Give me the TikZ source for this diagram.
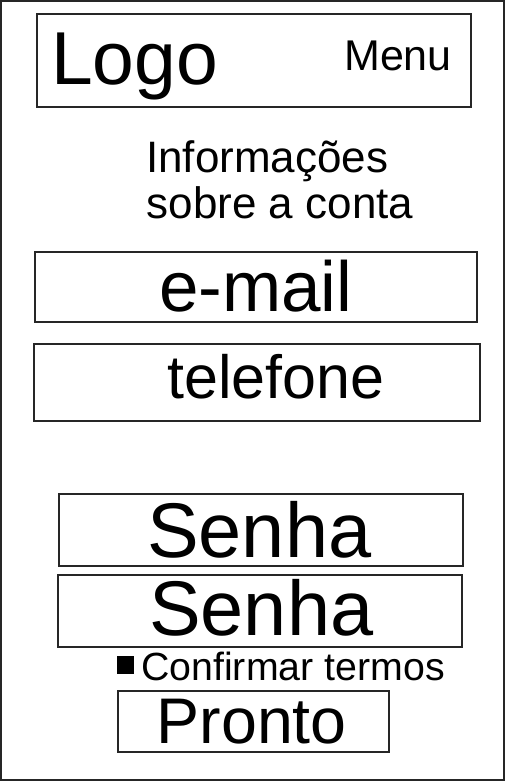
\documentclass[tikz,border=0pt]{standalone}
\usepackage{fontspec}
\setmainfont{Liberation Sans}
\begin{document}
\begin{tikzpicture}[x=1pt,y=-1pt,
  frame/.style={draw=black!85,line width=2pt},
  boxr/.style={draw=black!85,line width=2pt},
  lbl/.style={anchor=base west,inner sep=0pt,text=black}]
\useasboundingbox (0,0) rectangle (506,781);
\draw[frame] (1,1) rectangle (504,779.5);
% header
\draw[boxr] (37,14) rectangle (470.5,107.5);
\node[lbl,font=\fontsize{75}{75}\selectfont] (logo) at (51,85) {Logo};
\node[lbl,font=\fontsize{43}{43}\selectfont] (menu) at (344,71) {Menu};
% title
\node[lbl,font=\fontsize{44}{44}\selectfont] (info1) at (146,172) {Informações};
\node[lbl,font=\fontsize{44}{44}\selectfont] (info2) at (146.5,218) {sobre a conta};
% email
\draw[boxr] (35,252) rectangle (476.5,321.5);
\node[lbl,font=\fontsize{71}{71}\selectfont] (email) at (159,311.5) {e-mail};
% telefone
\draw[boxr] (33.5,343.5) rectangle (480,420.5);
\node[lbl,font=\fontsize{61}{61}\selectfont] (tel) at (167,398.3) {telefone};
% senha
\draw[boxr] (59,493.5) rectangle (462.5,565.5);
\node[lbl,font=\fontsize{77.5}{77.5}\selectfont] (senha1) at (147,557.3) {Senha};
\draw[boxr] (57.5,575) rectangle (461.5,646.5);
\node[lbl,font=\fontsize{77.5}{77.5}\selectfont] (senha2) at (149,635) {Senha};
% confirmar
\fill[black] (117.3,656) rectangle (134,674);
\node[lbl,font=\fontsize{39.3}{39.3}\selectfont] (conf) at (141,680) {Confirmar termos};
% pronto
\draw[boxr] (117.7,691) rectangle (389,751.5);
\node[lbl,font=\fontsize{64.5}{64.5}\selectfont] (pronto) at (156.5,743.3) {Pronto};
\end{tikzpicture}
\end{document}
